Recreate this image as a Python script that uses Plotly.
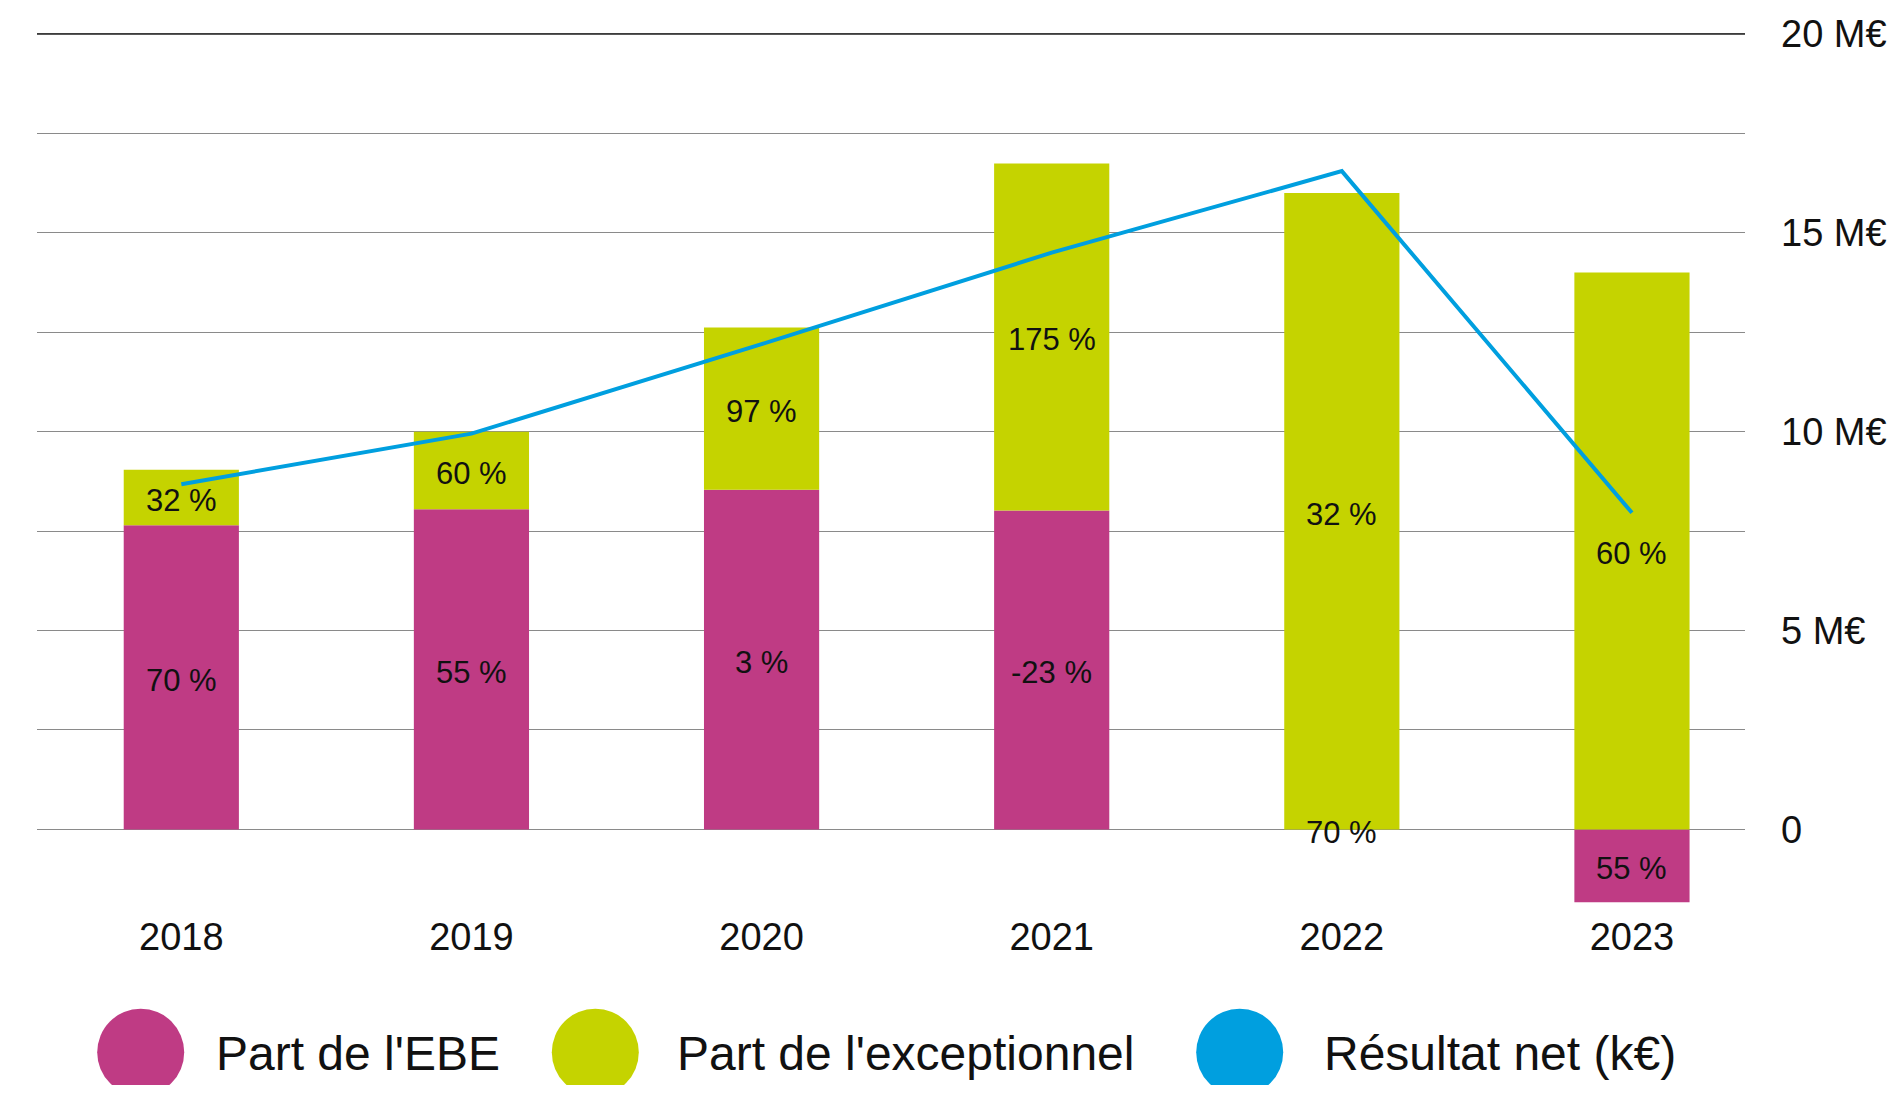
import plotly.graph_objects as go

# ---------------- data ----------------
years = ["2018", "2019", "2020", "2021", "2022", "2023"]
ebe = [7.65, 8.05, 8.54, 8.02, 0.0, -1.83]          # Part de l'EBE (M€)
exc = [1.39, 1.95, 4.08, 8.72, 16.0, 14.0]          # Part de l'exceptionnel (M€)
net = [8.68, 9.95, 12.2, 14.5, 16.55, 7.96]         # Résultat net (M€)
ebe_labels = ["70 %", "55 %", "3 %", "-23 %", "70 %", "55 %"]
exc_labels = ["32 %", "60 %", "97 %", "175 %", "32 %", "60 %"]
y_tickvals = [0, 2.5, 5, 7.5, 10, 12.5, 15, 17.5, 20]
y_ticktext = ["0", "", "5 M€", "", "10 M€", "", "15 M€", "", "20 M€"]
legend_names = ["Part de l'EBE", "Part de l'exceptionnel", "Résultat net (k€)"]

# ---------------- style ----------------
C_EBE = "#BF3B84"
C_EXC = "#C5D300"
C_NET = "#009FDF"
FONT = "Liberation Sans, Arial, sans-serif"

OFF = 8  # default body margin of the page
W, H = 1901 - 2 * OFF, 1093 - 2 * OFF
ML, MR, MT, MB = 29, 148, 6, 180
PW, PH = W - ML - MR, H - MT - MB

fig = go.Figure()
fig.add_trace(go.Bar(x=years, y=ebe, marker=dict(color=C_EBE, line=dict(width=0)),
                     name=legend_names[0], showlegend=False, hoverinfo="skip"))
fig.add_trace(go.Bar(x=years, y=exc, marker=dict(color=C_EXC, line=dict(width=0)),
                     name=legend_names[1], showlegend=False, hoverinfo="skip"))
fig.add_trace(go.Scatter(x=years, y=net, mode="lines", line=dict(color=C_NET, width=4),
                         name=legend_names[2], showlegend=False, hoverinfo="skip"))

# segment labels, centred in each stacked segment (x given as category index)
ebe_mid = [v / 2 for v in ebe]
exc_mid = [max(e, 0) + v / 2 for e, v in zip(ebe, exc)]
for ys, ts in ((ebe_mid, ebe_labels), (exc_mid, exc_labels)):
    for i, (y, t) in enumerate(zip(ys, ts)):
        fig.add_annotation(x=i, y=y, xref="x", yref="y", text=t, showarrow=False,
                           xanchor="center", yanchor="middle", yshift=-3,
                           font=dict(family=FONT, size=31, color="#111111"))

fig.update_layout(
    width=W, height=H,
    margin=dict(l=ML, r=MR, t=MT, b=MB, pad=0),
    paper_bgcolor="white", plot_bgcolor="white",
    barmode="relative", bargap=0.603,
    font=dict(family=FONT, color="#111111"),
    xaxis=dict(type="category", range=[-0.4974, 5.3896], showgrid=False, zeroline=False,
               showline=False, ticks="", tickfont=dict(family=FONT, size=38, color="#111111"),
               ticklabelstandoff=6),
    yaxis=dict(side="right", range=[-1.9, 20.5], tickvals=y_tickvals, ticktext=y_ticktext,
               showgrid=True, gridcolor="#8a8a8a", gridwidth=1.3, zeroline=False,
               showline=False, ticks="", tickfont=dict(family=FONT, size=38, color="#111111"),
               ticklabelstandoff=35),
)

# darker top gridline
fig.add_shape(type="line", xref="paper", yref="y", x0=0, x1=1, y0=20, y1=20,
              line=dict(color="#222222", width=1.5), layer="above")

# manual legend (big circles + text)
circle_cx = [132.7, 587.3, 1231.7]
text_x = [206, 667, 1314]
leg_cy = 1044.3
leg_ty = 1045
R = 43.5
for cx, tx, col, name in zip(circle_cx, text_x, [C_EBE, C_EXC, C_NET], legend_names):
    fig.add_shape(type="circle", xref="paper", yref="paper",
                  xsizemode="pixel", ysizemode="pixel",
                  xanchor=(cx - ML) / PW, yanchor=(MT + PH - leg_cy) / PH,
                  x0=-R, x1=R, y0=-R, y1=R,
                  fillcolor=col, line=dict(width=0))
    fig.add_annotation(xref="paper", yref="paper", x=(tx - ML) / PW, y=(MT + PH - leg_ty) / PH,
                       xanchor="left", yanchor="middle", showarrow=False, text=name,
                       font=dict(family=FONT, size=48, color="#111111"))

fig.write_html("out.html")
